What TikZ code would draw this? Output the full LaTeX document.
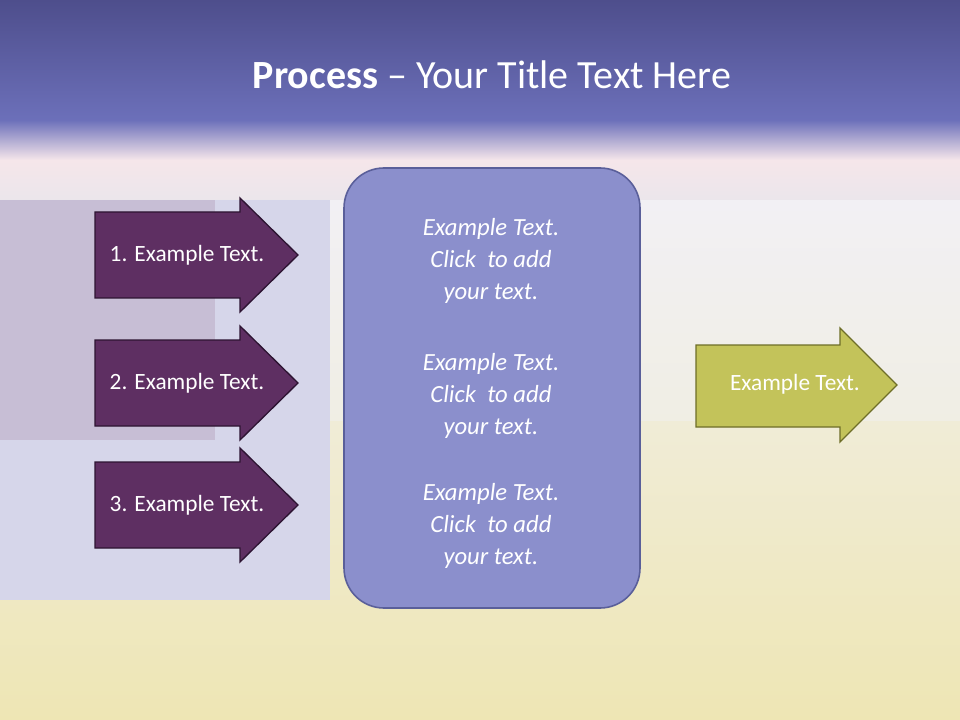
\documentclass[tikz,border=0pt]{standalone}
\usepackage{fontspec}
\setmainfont{Carlito}
\definecolor{bg}{RGB}{236,232,228}
\definecolor{yel1}{RGB}{240,236,215}
\definecolor{yel2}{RGB}{238,230,180}
\definecolor{wh1}{RGB}{242,240,245}
\definecolor{wh2}{RGB}{240,238,228}
\definecolor{lav}{RGB}{214,214,234}
\definecolor{mauve}{RGB}{190,175,200}
\definecolor{pink1}{RGB}{108,112,186}
\definecolor{pink2}{RGB}{235,230,235}
\definecolor{tb1}{RGB}{78,78,140}
\definecolor{tb2}{RGB}{108,112,186}
\definecolor{pfill}{RGB}{94,47,98}
\definecolor{pdraw}{RGB}{45,20,50}
\definecolor{gfill}{RGB}{195,195,90}
\definecolor{gdraw}{RGB}{110,110,40}
\definecolor{mfill}{RGB}{139,143,204}
\definecolor{mdraw}{RGB}{90,95,154}
\begin{document}
\begin{tikzpicture}[x=0.75pt,y=-0.75pt,
  parr/.style={fill=pfill,draw=pdraw,line width=1pt},
  garr/.style={fill=gfill,draw=gdraw,line width=1pt},
  lab/.style={text=white,font=\fontsize{17.5}{20}\selectfont},
  mid/.style={text=white,font=\fontsize{18.5}{24}\selectfont\itshape,align=center}]
\useasboundingbox (0,0) rectangle (960,720);
% background
\fill[bg] (0,0) rectangle (960,720);
\shade[top color=yel1,bottom color=yel2] (0,420) rectangle (960,720);
\shade[top color=wh1,bottom color=wh2] (330,190) rectangle (960,420);
\fill[lav] (0,190) rectangle (330,600);
\fill[mauve,opacity=0.6] (0,150) rectangle (215,440);
\shade[top color=pink1,bottom color=pink2,middle color=pink1!40!pink2!70!red!20!white] (0,120) rectangle (960,200);
\shade[top color=tb1,bottom color=tb2] (0,0) rectangle (960,121);
\node[text=white,font=\fontsize{30}{34}\selectfont] (title) at (492,75) {\textbf{Process} – Your Title Text Here};
% left arrows
\foreach \i/\c in {1/255,2/383,3/505}{
  \draw[parr] (95,\c-43) -- (240,\c-43) -- (240,\c-57) -- (298,\c) -- (240,\c+57) -- (240,\c+43) -- (95,\c+43) -- cycle;
  \node[lab] (a\i) at (187,\c) {\i. Example Text.};
}
% middle box
\draw[fill=mfill,draw=mdraw,line width=1.2pt,rounded corners=30pt] (344,168) rectangle (640,608);
\node[mid] (t1) at (491,261) {Example Text.\\Click\ \ to add\\your text.};
\node[mid] (t2) at (491,396) {Example Text.\\Click\ \ to add\\your text.};
\node[mid] (t3) at (491,526) {Example Text.\\Click\ \ to add\\your text.};
% right arrow
\draw[garr] (696,345) -- (840,345) -- (840,328) -- (897,385) -- (840,442) -- (840,427) -- (696,427) -- cycle;
\node[lab] (g) at (795,384) {Example Text.};
\end{tikzpicture}
\end{document}
